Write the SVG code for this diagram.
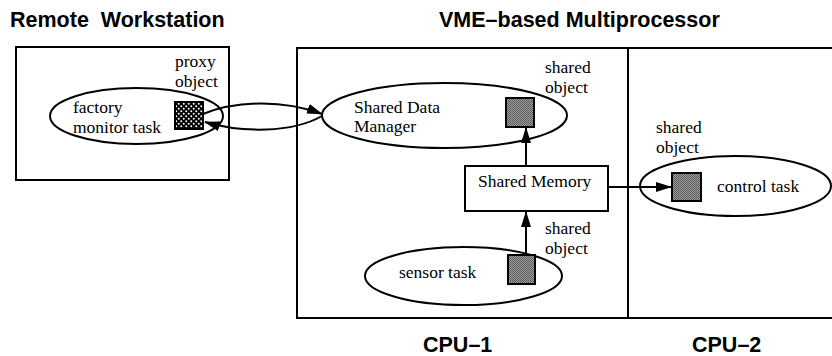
<svg xmlns="http://www.w3.org/2000/svg" width="832" height="356" viewBox="0 0 832 356">
<style>
.title{font-family:"Liberation Sans",Arial,sans-serif;font-weight:bold;font-size:21.5px;fill:#000}
.lbl{font-family:"Liberation Serif","Times New Roman",serif;font-size:17.5px;fill:#000}
.box{fill:none;stroke:#000;stroke-width:2}
.ell{fill:#fff;stroke:#000;stroke-width:2}
.obj{fill:url(#gray);stroke:#000;stroke-width:2}
.proxy{fill:url(#checker);stroke:#000;stroke-width:2}
.conn{fill:none;stroke:#000;stroke-width:2}
</style>
<defs>
<pattern id="checker" width="5" height="5" patternUnits="userSpaceOnUse">
<rect width="5" height="5" fill="#000"/>
<circle cx="1.25" cy="1.25" r="1" fill="#fff"/>
<circle cx="3.75" cy="3.75" r="1" fill="#fff"/>
</pattern>
<pattern id="gray" width="2" height="2" patternUnits="userSpaceOnUse">
<rect width="2" height="2" fill="#9a9a9a"/>
<rect width="1" height="1" fill="#555"/>
<rect x="1" y="1" width="1" height="1" fill="#666"/>
</pattern>
<marker id="arr" viewBox="0 0 16 10" refX="15" refY="5" markerWidth="16" markerHeight="10" markerUnits="userSpaceOnUse" orient="auto">
<path d="M0,0 L16,5 L0,10 Z" fill="#000"/>
</marker>
</defs>

<text class="title" x="10" y="27" xml:space="preserve">Remote  Workstation</text>
<text class="title" x="439" y="27">VME–based Multiprocessor</text>
<text class="title" x="423" y="352">CPU–1</text>
<text class="title" x="692" y="352">CPU–2</text>

<g id="remote-workstation">
<rect class="box" x="16" y="47" width="213" height="133"/>
</g>
<g id="cpu-boxes">
<rect class="box" x="297" y="48" width="545" height="270"/>
<line class="box" x1="628" y1="48" x2="628" y2="318"/>
</g>

<g id="factory-monitor-task">
<ellipse class="ell" cx="136.5" cy="116" rx="86.5" ry="28"/>
<text class="lbl" x="73" y="113">factory</text>
<text class="lbl" x="73" y="132.5">monitor task</text>
</g>
<g id="proxy-object">
<rect class="proxy" x="175" y="102" width="28" height="27"/>
<text class="lbl" x="175" y="67">proxy</text>
<text class="lbl" x="175" y="86.5">object</text>
</g>

<g id="shared-data-manager">
<ellipse class="ell" cx="444.5" cy="115.5" rx="122.5" ry="32.5"/>
<text class="lbl" x="354" y="112.5">Shared Data</text>
<text class="lbl" x="354" y="132">Manager</text>
</g>
<g id="sdm-shared-object">
<rect class="obj" x="506" y="98" width="28" height="29"/>
<text class="lbl" x="545" y="73">shared</text>
<text class="lbl" x="545" y="92.5">object</text>
</g>

<g id="shared-memory">
<rect class="box" x="465" y="166" width="143" height="45" fill="#fff"/>
<text class="lbl" x="478" y="187">Shared Memory</text>
</g>

<g id="sensor-task">
<ellipse class="ell" cx="463.5" cy="276" rx="98.5" ry="29"/>
<text class="lbl" x="399" y="278">sensor task</text>
</g>
<g id="sensor-shared-object">
<rect class="obj" x="508" y="255" width="27" height="29"/>
<text class="lbl" x="545" y="234">shared</text>
<text class="lbl" x="545" y="253.5">object</text>
</g>

<g id="control-task">
<ellipse class="ell" cx="735.5" cy="186" rx="95.5" ry="30"/>
<text class="lbl" x="717" y="192">control task</text>
</g>
<g id="control-shared-object">
<rect class="obj" x="672" y="173" width="29" height="28"/>
<text class="lbl" x="656" y="133">shared</text>
<text class="lbl" x="656" y="152.5">object</text>
</g>

<g id="connectors">
<path class="conn" d="M203,114 C235,101 282,99 322,114" marker-end="url(#arr)"/>
<path class="conn" d="M322,116 C292,133 242,133 205,122" marker-end="url(#arr)"/>
<line class="conn" x1="526" y1="166" x2="526" y2="128" marker-end="url(#arr)"/>
<line class="conn" x1="526" y1="255" x2="526" y2="212" marker-end="url(#arr)"/>
<line class="conn" x1="608" y1="187" x2="671" y2="187" marker-end="url(#arr)"/>
</g>
</svg>
